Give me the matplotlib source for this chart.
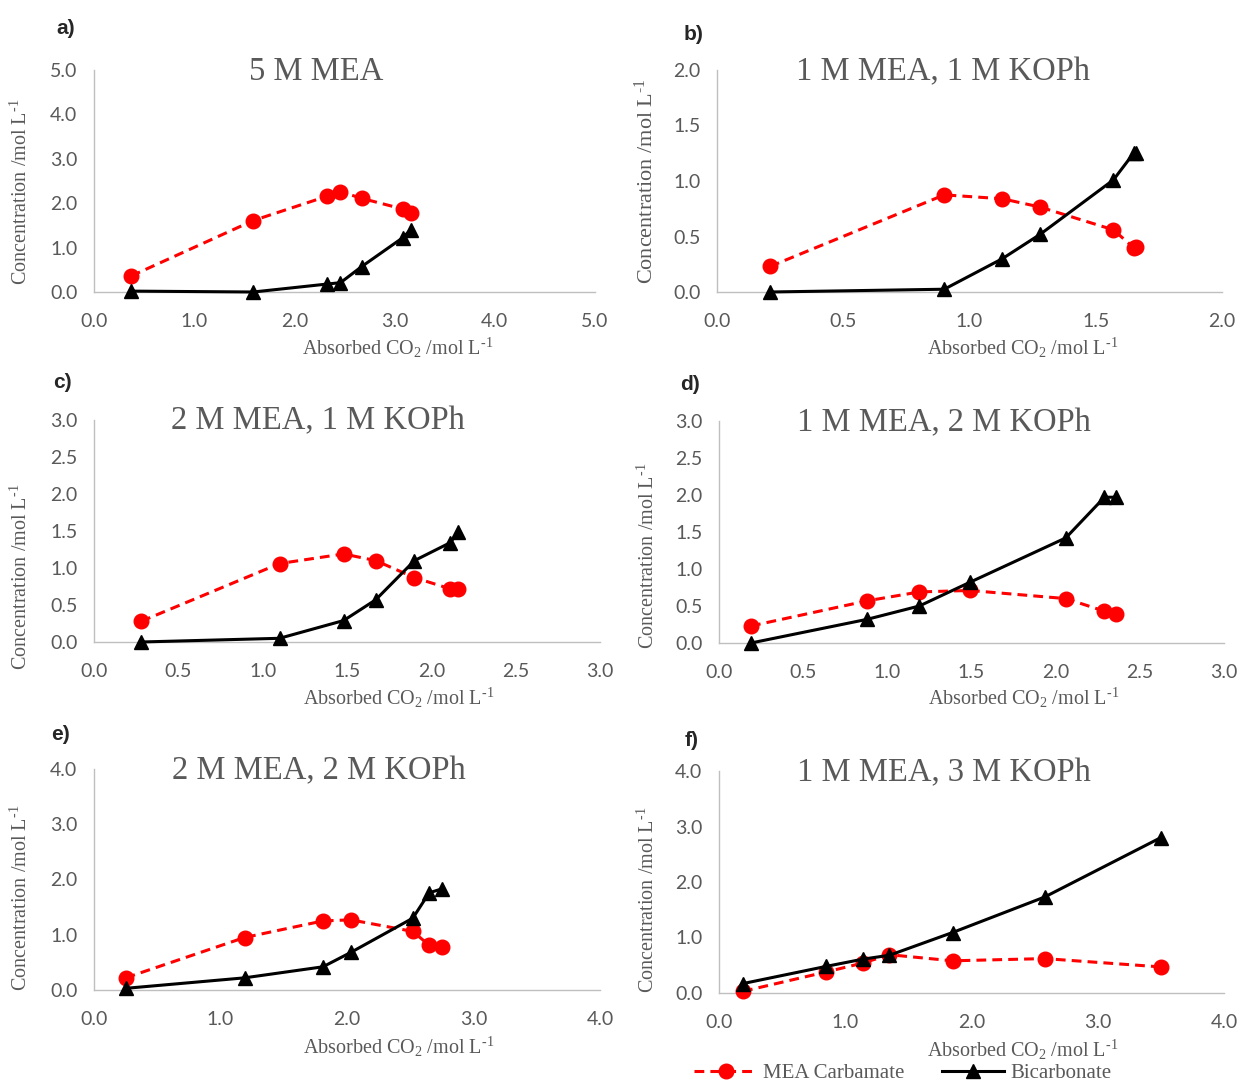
import matplotlib
matplotlib.use('Agg')
import matplotlib.pyplot as plt
from matplotlib.lines import Line2D

plt.rcParams['mathtext.fontset'] = 'custom'
plt.rcParams['mathtext.rm'] = 'Liberation Serif'
plt.rcParams['mathtext.it'] = 'Liberation Serif:italic'
plt.rcParams['mathtext.bf'] = 'Liberation Serif:bold'

# ---------------- data ----------------
a_co2 = [0.37, 1.59, 2.33, 2.46, 2.67, 3.08, 3.16]
a_carbamate = [0.36, 1.61, 2.16, 2.26, 2.11, 1.87, 1.77]
a_bicarbonate = [0.02, 0.0, 0.18, 0.21, 0.57, 1.22, 1.40]

b_co2 = [0.21, 0.90, 1.13, 1.28, 1.57, 1.65, 1.66]
b_carbamate = [0.23, 0.875, 0.84, 0.765, 0.56, 0.40, 0.405]
b_bicarbonate = [0.0, 0.025, 0.30, 0.52, 1.01, 1.25, 1.25]

c_co2 = [0.28, 1.10, 1.48, 1.67, 1.90, 2.11, 2.16]
c_carbamate = [0.28, 1.06, 1.19, 1.10, 0.87, 0.72, 0.71]
c_bicarbonate = [0.0, 0.05, 0.29, 0.57, 1.10, 1.34, 1.48]

d_co2 = [0.19, 0.88, 1.19, 1.49, 2.06, 2.29, 2.36]
d_carbamate = [0.23, 0.57, 0.69, 0.71, 0.60, 0.43, 0.39]
d_bicarbonate = [0.0, 0.32, 0.50, 0.82, 1.42, 1.97, 1.97]

e_co2 = [0.25, 1.19, 1.81, 2.03, 2.52, 2.65, 2.75]
e_carbamate = [0.22, 0.95, 1.25, 1.27, 1.06, 0.81, 0.77]
e_bicarbonate = [0.03, 0.22, 0.42, 0.68, 1.30, 1.76, 1.83]

f_co2 = [0.19, 0.85, 1.14, 1.35, 1.85, 2.58, 3.50]
f_carbamate = [0.03, 0.38, 0.54, 0.69, 0.58, 0.62, 0.47]
f_bicarbonate = [0.17, 0.48, 0.61, 0.68, 1.09, 1.73, 2.80]

panel_letters = ['a)', 'b)', 'c)', 'd)', 'e)', 'f)']
titles = ['5 M MEA', '1 M MEA, 1 M KOPh', '2 M MEA, 1 M KOPh',
          '1 M MEA, 2 M KOPh', '2 M MEA, 2 M KOPh', '1 M MEA, 3 M KOPh']
axis_max = [5.0, 2.0, 3.0, 3.0, 4.0, 4.0]
tick_steps = [1.0, 0.5, 0.5, 0.5, 1.0, 1.0]
series_labels = ['MEA Carbamate', 'Bicarbonate']
xlabel_text = 'Absorbed CO$_\\mathrm{2}$ /mol L$^\\mathrm{\u20101}$'
ylabel_text = 'Concentration /mol L$^\\mathrm{\u20101}$'

xs = [a_co2, b_co2, c_co2, d_co2, e_co2, f_co2]
carbs = [a_carbamate, b_carbamate, c_carbamate, d_carbamate, e_carbamate, f_carbamate]
bicarbs = [a_bicarbonate, b_bicarbonate, c_bicarbonate, d_bicarbonate, e_bicarbonate, f_bicarbonate]

# ---------------- layout (pixels) ----------------
W, H = 1240, 1084
fig = plt.figure(figsize=(W / 100, H / 100), dpi=100)

def frac(x, y):
    return x / W, 1 - y / H

# axes boxes: left, right, top, bottom
boxes = [(94, 595, 70, 292), (717, 1222, 70, 292),
         (94, 600, 420, 642), (719, 1224, 421, 643),
         (94, 600, 769, 990), (719, 1224, 771, 993)]
letter_pos = [(66, 29), (694, 34), (62, 383), (690, 385), (60, 734), (692, 740)]
title_pos = [(316, 72), (943, 72), (318, 421), (944, 423), (319, 771), (944, 773)]
xlabel_pos = [(398, 348), (1023, 348), (399, 698), (1024, 698), (399, 1047), (1023, 1050)]
ylabel_pos = [(21, 192), (646, 181), (21, 577), (648, 556), (21, 898), (648, 900)]
ylabel_sizes = [14.5, 16, 14.5, 14.5, 14.5, 14.5]

grey = '#595959'
red_dash = (0, (3.2, 2.0))
for i in range(6):
    l, r, t, b = boxes[i]
    ax = fig.add_axes([l / W, 1 - b / H, (r - l) / W, (b - t) / H])
    ax.plot(xs[i], carbs[i], color='#FF0000', lw=2.2, ls=red_dash,
            marker='o', ms=10.5, label=series_labels[0], clip_on=False, zorder=3)
    ax.plot(xs[i], bicarbs[i], color='black', lw=2.2, ls='-',
            marker='^', ms=10.5, label=series_labels[1], clip_on=False, zorder=4)
    m = axis_max[i]
    st = tick_steps[i]
    n = int(round(m / st))
    ticks = [k * st for k in range(n + 1)]
    ax.set_xlim(0, m)
    ax.set_ylim(0, m)
    ax.set_xticks(ticks)
    ax.set_yticks(ticks)
    ax.set_xticklabels([f'{v:.1f}' for v in ticks])
    ax.set_yticklabels([f'{v:.1f}' for v in ticks])
    for sp in ['top', 'right']:
        ax.spines[sp].set_visible(False)
    for sp in ['left', 'bottom']:
        ax.spines[sp].set_color('#bfbfbf')
        ax.spines[sp].set_linewidth(1.0)
    ax.tick_params(length=0, labelsize=14, labelcolor=grey)
    ax.tick_params(axis='x', pad=15)
    ax.tick_params(axis='y', pad=12)
    for lab in ax.get_xticklabels() + ax.get_yticklabels():
        lab.set_family('Lato')
    ax.patch.set_alpha(0)

    x0, y0 = frac(*letter_pos[i])
    fig.text(x0, y0, panel_letters[i], family='Liberation Sans', weight='bold', fontsize=15,
             color='#262626', ha='center', va='center')
    x0, y0 = frac(*title_pos[i])
    fig.text(x0, y0, titles[i], family='Liberation Serif', fontsize=23.5,
             color=grey, ha='center', va='center')
    x0, y0 = frac(*xlabel_pos[i])
    fig.text(x0, y0, xlabel_text, family='Liberation Serif', fontsize=14.5,
             color=grey, ha='center', va='center')
    x0, y0 = frac(*ylabel_pos[i])
    fig.text(x0, y0, ylabel_text, family='Liberation Serif', fontsize=ylabel_sizes[i],
             color=grey, ha='center', va='center', rotation=90)

handles = [Line2D([], [], color='#FF0000', lw=2.2, ls=red_dash, marker='o', ms=10.5),
           Line2D([], [], color='black', lw=2.2, ls='-', marker='^', ms=10.5)]
lx, ly = frac(903, 1073)
leg = fig.legend(handles, series_labels, loc='center', bbox_to_anchor=(lx, ly), ncol=2,
                 frameon=False, handlelength=3.0, handletextpad=0.3, columnspacing=1.8,
                 prop={'family': 'Liberation Serif', 'size': 15})
for tx in leg.get_texts():
    tx.set_color(grey)

fig.savefig('out.png', dpi=100)
